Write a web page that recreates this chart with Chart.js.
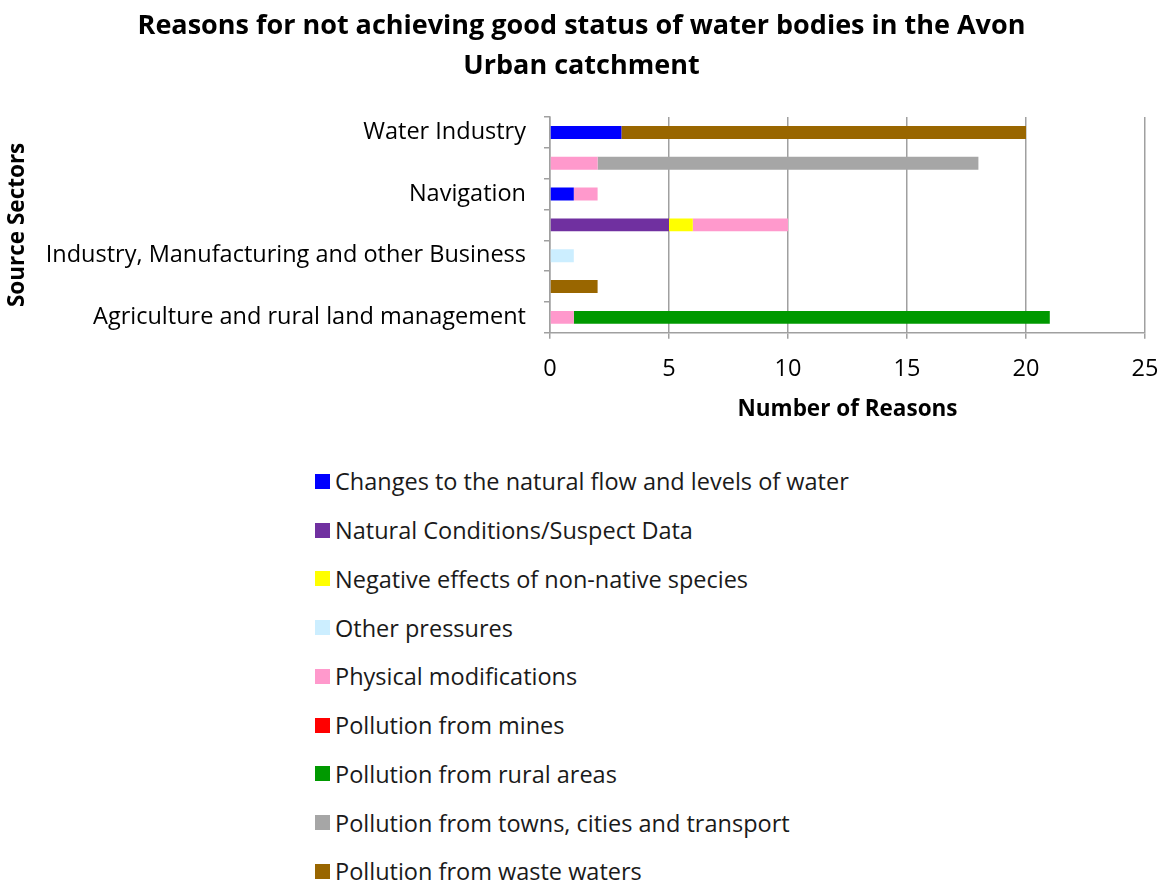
<!DOCTYPE html>
<html>
<head>
<meta charset="utf-8">
<script src="https://cdn.jsdelivr.net/npm/chart.js@4"></script>
<style>
    body { margin: 0; background: #fff; }
    #wrap { position: relative; width: 1161px; height: 883px; background: #fff; overflow: hidden; }
    #chartBox { position: absolute; left: 0; top: 0; width: 1161px; height: 445px; }
    #legend { position: absolute; left: 315px; top: 457px; margin: 0; padding: 0; list-style: none;
              font-family: "Open Sans", sans-serif; font-size: 23.5px; color: #1a1a1a; }
    #legend li { height: 48.75px; display: flex; align-items: center; white-space: nowrap; }
    #legend .box { width: 15px; height: 15px; margin-right: 5px; flex: none; }
</style>
</head>
<body>
<div id="wrap">
    <div id="chartBox"><canvas id="reasonsChart"></canvas></div>
    <ul id="legend"></ul>
</div>
<script>
// source sectors, top to bottom (only every other one gets a label on the axis)
const sectors = [
    'Water Industry',
    'Urban and Transport',
    'Navigation',
    'Local and Central Government',
    'Industry, Manufacturing and other Business',
    'Domestic General Public',
    'Agriculture and rural land management'
];

const xTicks = [0, 5, 10, 15, 20, 25];

// number of reasons per sector, one array per pressure
const flowChanges     = [3, 0, 1, 0, 0, 0, 0];
const naturalCond     = [0, 0, 0, 5, 0, 0, 0];
const nonNative       = [0, 0, 0, 1, 0, 0, 0];
const otherPressures  = [0, 0, 0, 0, 1, 0, 0];
const physicalMods    = [0, 2, 1, 4, 0, 0, 1];
const minesPollution  = [0, 0, 0, 0, 0, 0, 0];
const ruralPollution  = [0, 0, 0, 0, 0, 0, 20];
const townsPollution  = [0, 16, 0, 0, 0, 0, 0];
const wastePollution  = [17, 0, 0, 0, 0, 2, 0];

const seriesNames = [
    'Changes to the natural flow and levels of water',
    'Natural Conditions/Suspect Data',
    'Negative effects of non-native species',
    'Other pressures',
    'Physical modifications',
    'Pollution from mines',
    'Pollution from rural areas',
    'Pollution from towns, cities and transport',
    'Pollution from waste waters'
];
const seriesColors = ['#0000ff', '#7030a0', '#ffff00', '#cceeff', '#ff99cc', '#ff0000', '#009900', '#a6a6a6', '#996600'];
const seriesData = [flowChanges, naturalCond, nonNative, otherPressures, physicalMods,
                    minesPollution, ruralPollution, townsPollution, wastePollution];

const tickFont = { family: 'Open Sans', size: 23.5 };
const boldFont = { family: 'Open Sans', size: 22.5, weight: 'bold' };

const ctx = document.getElementById('reasonsChart').getContext('2d');

const chart = new Chart(ctx, {
    type: 'bar',
    data: {
        labels: sectors,
        datasets: seriesNames.map((name, i) => ({
            label: name,
            data: seriesData[i],
            backgroundColor: seriesColors[i],
            borderWidth: 0,
            categoryPercentage: 1,
            barPercentage: 0.42
        }))
    },
    options: {
        indexAxis: 'y',
        responsive: true,
        maintainAspectRatio: false,
        animation: false,
        layout: { padding: { left: 4, right: 2, top: 0, bottom: 18 } },
        plugins: {
            legend: { display: false },
            title: {
                display: true,
                text: ['Reasons for not achieving good status of water bodies in the Avon', 'Urban catchment'],
                color: '#000',
                font: { family: 'Open Sans', size: 27, weight: 'bold', lineHeight: 1.5 },
                padding: { top: 6, bottom: 30 }
            }
        },
        scales: {
            x: {
                stacked: true,
                min: xTicks[0],
                max: xTicks[xTicks.length - 1],
                afterBuildTicks: (scale) => { scale.ticks = xTicks.map(v => ({ value: v })); },
                afterFit: (scale) => { scale.paddingRight = 16; },
                ticks: { color: '#000', font: tickFont, padding: 16 },
                grid: { color: '#a0a0a0', lineWidth: 1.5, tickLength: 6 },
                border: { color: '#a0a0a0', width: 1.5 },
                title: { display: true, text: 'Number of Reasons', color: '#000', font: boldFont, padding: { top: -3, bottom: 4 } }
            },
            y: {
                stacked: true,
                afterFit: (scale) => { scale.width = 546; },
                ticks: {
                    autoSkip: false,
                    color: '#000',
                    font: tickFont,
                    padding: 18,
                    callback: (value, index) => index % 2 === 0 ? sectors[index] : ''
                },
                grid: { drawOnChartArea: false, color: '#a0a0a0', lineWidth: 1.5, tickLength: 6 },
                border: { color: '#a0a0a0', width: 1.5 },
                title: { display: true, text: 'Source Sectors', color: '#000', font: boldFont, padding: { top: 0, bottom: 0 } }
            }
        }
    }
});

// legend in one column under the chart, built from the chart's own legend items
const legendList = document.getElementById('legend');
Chart.defaults.plugins.legend.labels.generateLabels(chart).forEach(item => {
    const li = document.createElement('li');
    const box = document.createElement('span');
    box.className = 'box';
    box.style.background = item.fillStyle;
    const text = document.createElement('span');
    text.textContent = item.text;
    li.appendChild(box);
    li.appendChild(text);
    legendList.appendChild(li);
});
</script>
</body>
</html>
